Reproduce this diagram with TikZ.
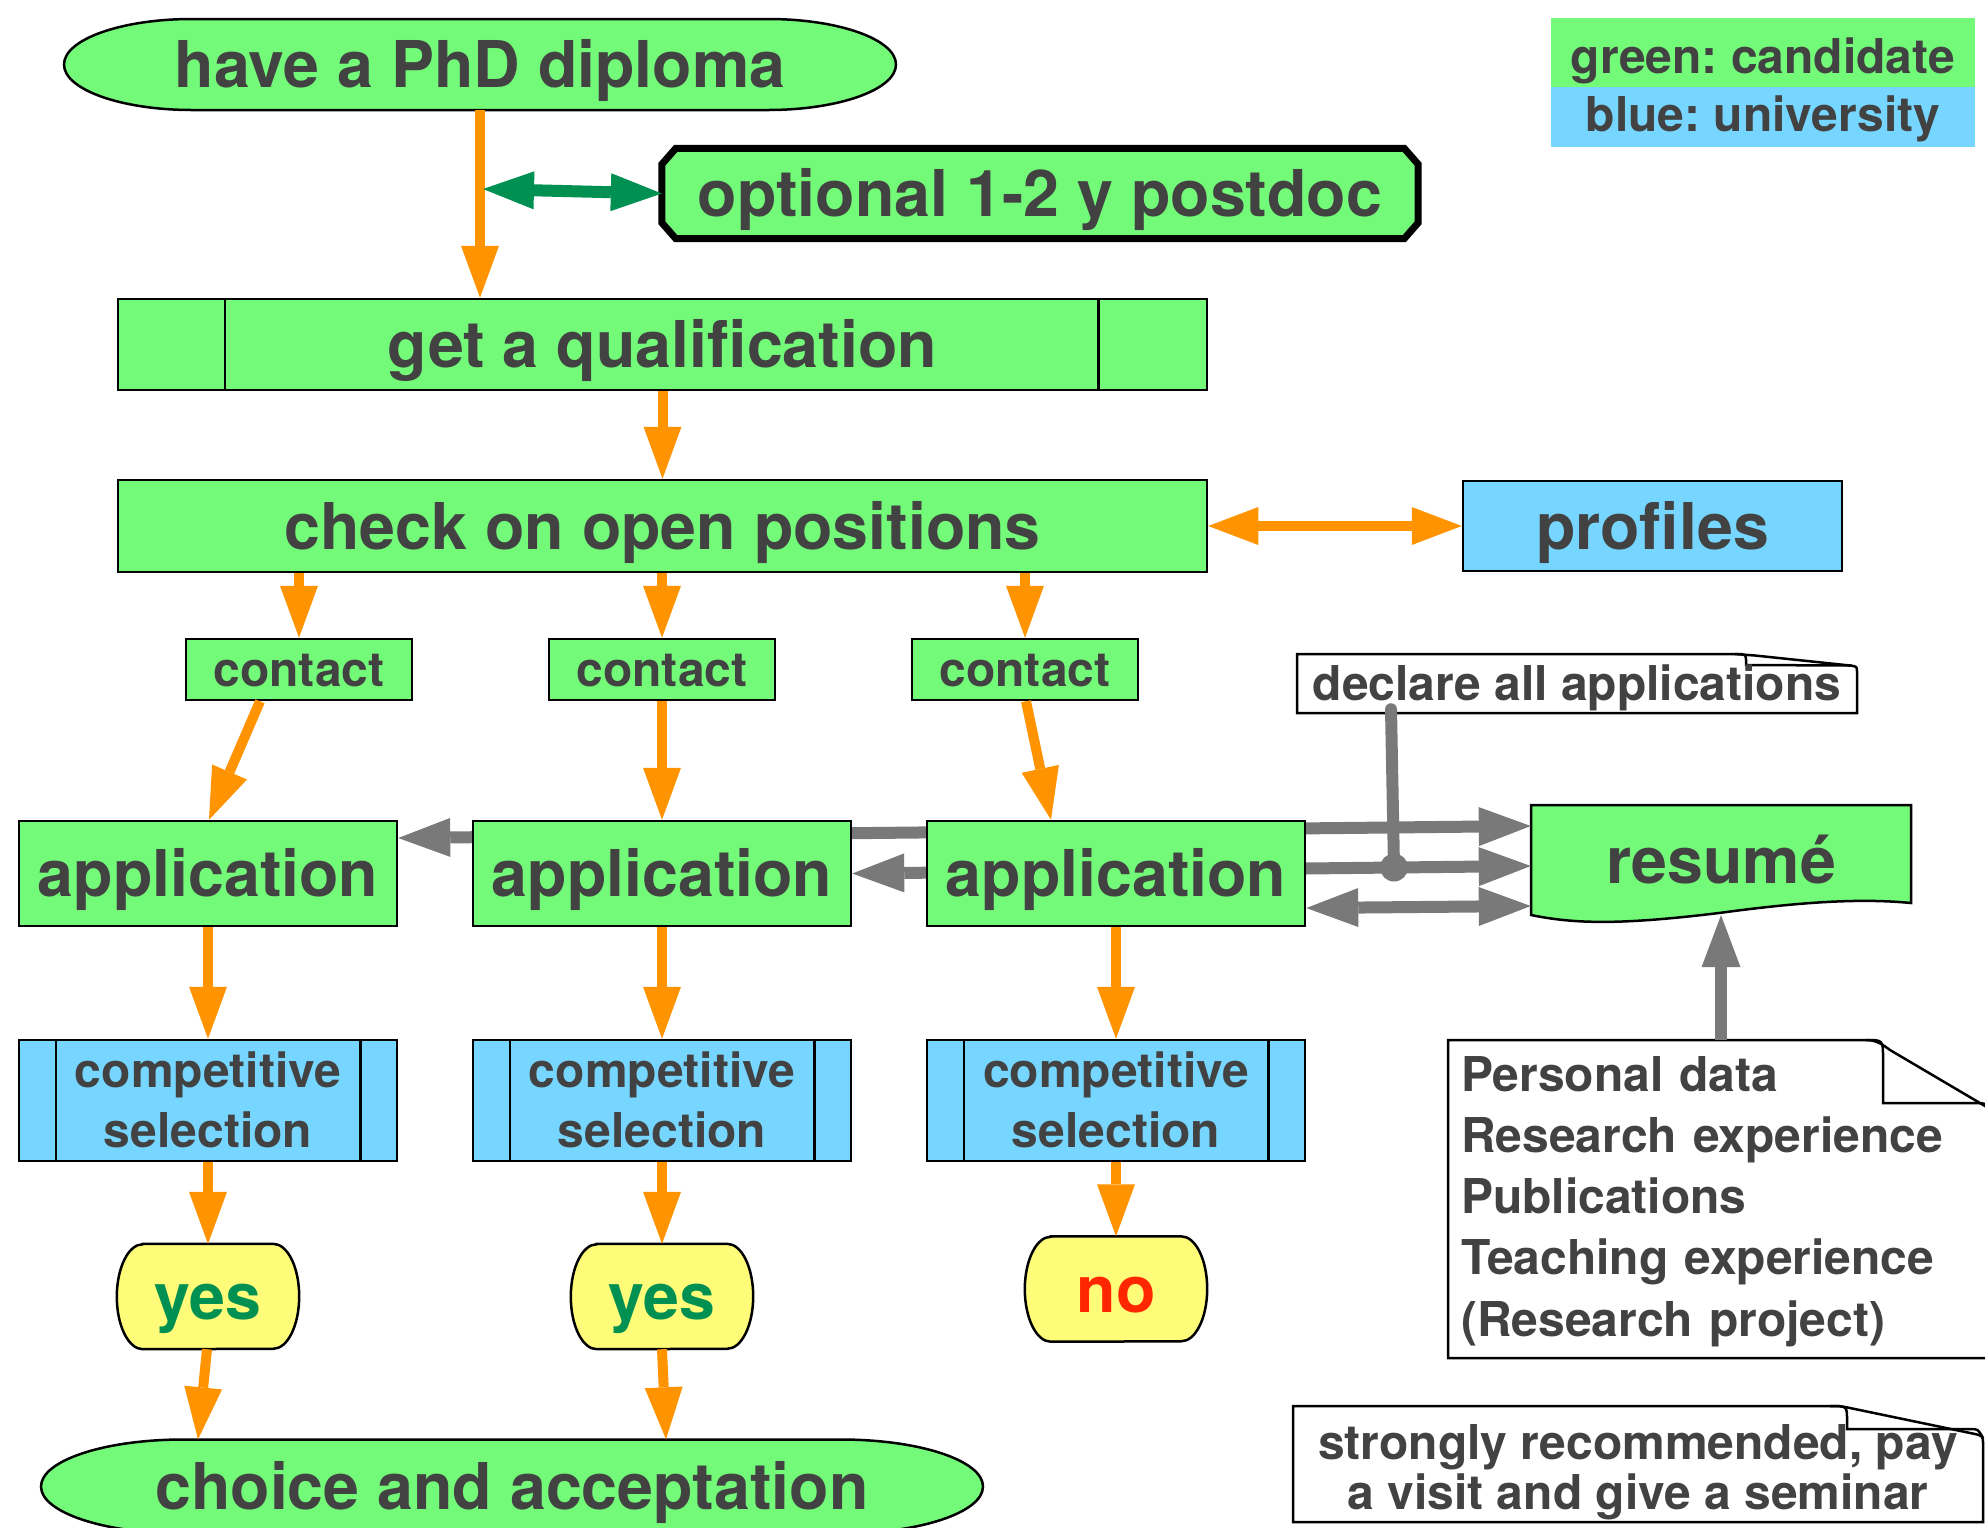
\documentclass[tikz,border=0pt]{standalone}
\usepackage{fontspec}
\setmainfont{TeX Gyre Heros}
\usetikzlibrary{arrows.meta,calc}
\pgfdeclarelayer{back}
\pgfsetlayers{back,main}
\definecolor{flora}{HTML}{73FA79}
\definecolor{sky}{HTML}{76D6FF}
\definecolor{banana}{HTML}{FFFC79}
\definecolor{tangerine}{HTML}{FF9300}
\definecolor{moss}{HTML}{009051}
\definecolor{steel}{HTML}{797979}
\definecolor{tungsten}{HTML}{424242}
\definecolor{maraschino}{HTML}{FF2600}
\frenchspacing
\tikzset{
  bigtxt/.style={font=\fontsize{64.5}{70}\selectfont\bfseries\frenchspacing, text=tungsten, text height=46.3pt, text depth=0pt, inner sep=0pt},
  smalltxt/.style={font=\fontsize{48}{60}\selectfont\bfseries\frenchspacing, text=tungsten, text height=34.5pt, text depth=0pt, inner sep=0pt},
  boxline/.style={draw=black, line width=2.5pt},
  gbox/.style={boxline, fill=flora},
  bbox/.style={boxline, fill=sky},
  oarrow/.style={draw=tangerine, line width=10pt, -{Triangle[length=52pt,width=38pt,line width=0pt]}},
  oboth/.style={draw=tangerine, line width=10pt, {Triangle[length=50pt,width=38pt,line width=0pt]}-{Triangle[length=50pt,width=38pt,line width=0pt]}},
  gboth/.style={draw=steel, line width=12pt, {Triangle[length=52pt,width=39pt,line width=0pt]}-{Triangle[length=52pt,width=39pt,line width=0pt]}},
  garrow/.style={draw=steel, line width=12pt, -{Triangle[length=52pt,width=39pt,line width=0pt]}},
  mossboth/.style={draw=moss, line width=12pt, {Triangle[length=51pt,width=38pt,line width=0pt]}-{Triangle[length=51pt,width=38pt,line width=0pt]}},
}
\begin{document}
\begin{tikzpicture}[x=1pt,y=-1pt]
\useasboundingbox (0,0) rectangle (1985,1527);

% ---------- nodes ----------
\node[bigtxt, minimum width=832pt, minimum height=91pt] (phd) at (480,64.5) {have a PhD diploma};
\node[bigtxt, minimum width=756pt, minimum height=90pt] (pd) at (1040,193.5) {optional 1-2 y postdoc};
\node[smalltxt, fill=flora, text height=41pt, minimum width=424pt, minimum height=69pt] (leg1) at (1763,52.5) {green: candidate};
\node[smalltxt, fill=sky, text depth=6pt, minimum width=424pt, minimum height=60pt] (leg2) at (1763,117) {blue: university};

\node[bigtxt, gbox, minimum width=1089pt, minimum height=91pt] (qual) at (662.5,344.5) {get a qualification};
\node[bigtxt, gbox, minimum width=1089pt, minimum height=92pt] (chk) at (662.5,526) {check on open positions};
\node[bigtxt, bbox, minimum width=379pt, minimum height=90pt] (prof) at (1652.5,526) {profiles};

\node[smalltxt, gbox, minimum width=226pt, minimum height=61pt] (c1) at (299,669.5) {contact};
\node[smalltxt, gbox, minimum width=226pt, minimum height=61pt] (c2) at (662,669.5) {contact};
\node[smalltxt, gbox, minimum width=226pt, minimum height=61pt] (c3) at (1025,669.5) {contact};

\node[bigtxt, gbox, minimum width=378pt, minimum height=105pt] (a1) at (208,873.5) {application};
\node[bigtxt, gbox, minimum width=378pt, minimum height=105pt] (a2) at (662,873.5) {application};
\node[bigtxt, gbox, minimum width=378pt, minimum height=105pt] (a3) at (1116,873.5) {application};

\node[smalltxt, bbox, align=center, text height=94.5pt, minimum width=378pt, minimum height=121pt] (s1) at (208,1100.5) {competitive\\selection};
\node[smalltxt, bbox, align=center, text height=94.5pt, minimum width=378pt, minimum height=121pt] (s2) at (662,1100.5) {competitive\\selection};
\node[smalltxt, bbox, align=center, text height=94.5pt, minimum width=378pt, minimum height=121pt] (s3) at (1116,1100.5) {competitive\\selection};

\node[bigtxt, text=moss, minimum width=182pt, minimum height=105pt] (y1) at (208,1296.5) {yes};
\node[bigtxt, text=moss, minimum width=182pt, minimum height=105pt] (y2) at (662,1296.5) {yes};
\node[bigtxt, text=maraschino, minimum width=182pt, minimum height=105pt] (n3) at (1116,1289) {no};

\node[bigtxt, minimum width=942pt, minimum height=94pt] (ch) at (512,1486.5) {choice and acceptation};

\node[bigtxt, minimum width=380pt, minimum height=110pt] (res) at (1721,860) {resumé};
\node[smalltxt, minimum width=560pt, minimum height=59pt] (dec) at (1577,683.5) {declare all applications};
\node[smalltxt, font=\fontsize{48}{61.3}\selectfont\bfseries, align=left, text width=518pt, inner xsep=13pt, text depth=250.5pt, minimum height=318pt] (pers) at (1720,1199) {Personal data\\Research experience\\Publications\\Teaching experience\\(Research project)};
\node[smalltxt, font=\fontsize{48}{50}\selectfont\bfseries\frenchspacing, align=center, text height=90pt, minimum width=690pt, minimum height=116pt] (strong) at (1638,1464) {strongly recommended, pay\\a visit and give a seminar};

% dividers
\draw[boxline] ([xshift=108pt]qual.north west) -- ([xshift=108pt]qual.south west);
\draw[boxline] ([xshift=-110pt]qual.north east) -- ([xshift=-110pt]qual.south east);
\foreach \s in {s1,s2,s3}{
  \draw[boxline] ([xshift=38pt]\s.north west) -- ([xshift=38pt]\s.south west);
  \draw[boxline] ([xshift=-38pt]\s.north east) -- ([xshift=-38pt]\s.south east);
}

% ---------- shapes behind ----------
\begin{pgfonlayer}{back}
  % stadiums
  \draw[boxline, fill=flora] (192,19) -- (768,19)
     .. controls (838.7,19) and (896,39.4) .. (896,64.5)
     .. controls (896,89.6) and (838.7,110) .. (768,110)
     -- (192,110)
     .. controls (121.3,110) and (64,89.6) .. (64,64.5)
     .. controls (64,39.4) and (121.3,19) .. (192,19) -- cycle;
  \draw[boxline, fill=flora] (183,1439.5) -- (841,1439.5)
     .. controls (919.4,1439.5) and (983,1460.5) .. (983,1486.5)
     .. controls (983,1512.5) and (919.4,1533.5) .. (841,1533.5)
     -- (183,1533.5)
     .. controls (104.6,1533.5) and (41,1512.5) .. (41,1486.5)
     .. controls (41,1460.5) and (104.6,1439.5) .. (183,1439.5) -- cycle;
  % postdoc
  \draw[draw=black, line width=7pt, fill=flora]
     ($(pd.north west)+(14,0)$) -- ($(pd.north east)+(-14,0)$) -- ($(pd.north east)+(0,16)$)
     -- ($(pd.south east)+(0,-16)$) -- ($(pd.south east)+(-14,0)$) -- ($(pd.south west)+(14,0)$)
     -- ($(pd.south west)+(0,-16)$) -- ($(pd.north west)+(0,16)$) -- cycle;
  % yes / no
  \foreach \n in {y1,y2,n3}{
    \draw[boxline, fill=banana] ($(\n.north west)+(26,0)$) -- ($(\n.north east)+(-26,0)$)
       arc[start angle=-90, end angle=90, x radius=26, y radius=52.5]
       -- ($(\n.south west)+(26,0)$)
       arc[start angle=90, end angle=270, x radius=26, y radius=52.5] -- cycle;
  }
  % resume document
  \draw[boxline, fill=flora] (1531,805) -- (1911,805) -- (1911,903)
     .. controls (1860,898) and (1800,902) .. (1719,913)
     .. controls (1620,925) and (1575,924) .. (1531,915) -- cycle;
  % declare note
  \draw[boxline, fill=white] (1297,654) -- (1735,654) .. controls (1745,654) .. (1755,655.5)
     -- (1850,665.5) .. controls (1857,666.5) .. (1857,672) -- (1857,713) -- (1297,713) -- cycle;
  \draw[boxline] (1735,654) .. controls (1746,654) .. (1746,662) -- (1746,665) -- (1852,665.5);
  % personal data note
  \draw[boxline, fill=white] (1448,1040) -- (1866,1040) .. controls (1876,1040) and (1882,1044) .. (1890,1050)
     -- (1985,1106) .. controls (1990,1109) and (1995,1112) .. (1995,1120) -- (1995,1358) -- (1448,1358) -- cycle;
  \draw[boxline] (1866,1040) .. controls (1883,1040) .. (1883,1058) -- (1883,1103) -- (1975,1103)
     .. controls (1985,1103) .. (1992,1110);
  % strongly note
  \draw[boxline, fill=white] (1293,1406) -- (1830,1406) .. controls (1840,1406) .. (1850,1408)
     -- (1975,1434) .. controls (1983,1436) .. (1983,1445) -- (1983,1522) -- (1293,1522) -- cycle;
  \draw[boxline] (1830,1406) .. controls (1847,1406) .. (1847,1420) -- (1847,1429) -- (1970,1429)
     .. controls (1978,1429) .. (1983,1438);

  % gray connectors (behind the application boxes)
  \draw[gboth] ([yshift=35.5pt]a1.east) -- ([yshift=34pt]res.west);
  \draw[gboth] (a2.east) -- ([yshift=-6pt]res.west);
  \draw[gboth] ([yshift=-34.5pt]a3.east) -- ([yshift=-46pt]res.west);
  \coordinate (dotc) at (1394,867.5);
  \draw[steel, line width=12pt, line cap=round] ([xshift=-186pt,yshift=4pt]dec.south) -- (dotc);
  \fill[steel] (dotc) circle[radius=14pt];
  \draw[garrow] (res.south |- pers.north) -- (res.south);
\end{pgfonlayer}

% ---------- orange connectors ----------
\draw[oarrow] (phd.south) -- (phd.south |- qual.north);
\coordinate (jn) at (483,189);
\draw[mossboth] (jn) -- (pd.west);
\draw[oarrow] (qual.south) -- (chk.north);
\draw[oboth] (chk.east) -- (prof.west);
\foreach \c in {c1,c2,c3} \draw[oarrow] (\c.north |- chk.south) -- (\c.north);
\draw[oarrow] ([xshift=-39pt]c1.south) -- ([xshift=1pt]a1.north);
\draw[oarrow] (c2.south) -- (a2.north);
\draw[oarrow] ([xshift=1pt]c3.south) -- ([xshift=-65pt]a3.north);
\draw[oarrow] (a1.south) -- (s1.north);
\draw[oarrow] (a2.south) -- (s2.north);
\draw[oarrow] (a3.south) -- (s3.north);
\draw[oarrow] (s1.south) -- (y1.north);
\draw[oarrow] (s2.south) -- (y2.north);
\draw[oarrow] (s3.south) -- (n3.north);
\draw[oarrow] ([xshift=-1pt]y1.south) -- ([xshift=-314pt]ch.north);
\draw[oarrow] (y2.south) -- ([xshift=154pt]ch.north);
\end{tikzpicture}
\end{document}
